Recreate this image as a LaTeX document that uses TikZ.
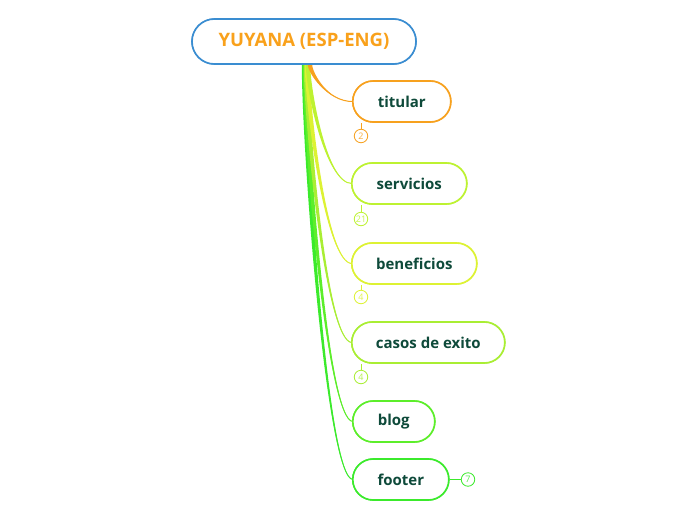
\documentclass[tikz,border=0pt]{standalone}
\usepackage{fontspec}
\setmainfont{Open Sans}
\usetikzlibrary{calc}
\definecolor{rootblue}{HTML}{3A8DD1}
\definecolor{rootorange}{HTML}{F9A11B}
\definecolor{txtdark}{HTML}{0E4A3A}
\definecolor{cTit}{HTML}{F7A11E}
\definecolor{cSer}{HTML}{BDF231}
\definecolor{cBen}{HTML}{DDF233}
\definecolor{cCas}{HTML}{A9EE33}
\definecolor{cBlo}{HTML}{5CEE2A}
\definecolor{cFoo}{HTML}{3BEA2C}
\tikzset{
  rootbox/.style={draw=rootblue, line width=1.6pt, rounded corners=22.5pt, fill=white,
    minimum height=45pt, minimum width=224pt, inner sep=0pt,
    font=\fontsize{18.5}{20}\selectfont\bfseries, text=rootorange},
  childbox/.style={draw=#1, line width=1.6pt, rounded corners=20.5pt, fill=white,
    minimum height=41pt, inner sep=0pt, anchor=west,
    font=\fontsize{15}{17}\selectfont\bfseries, text=txtdark},
  badge/.style={draw=#1, line width=0.8pt, circle, minimum size=13.5pt, inner sep=0pt,
    fill=white, font=\fontsize{9}{10}\selectfont, text=#1!85!white},
  blink/.style={draw=#1, line width=1pt},
}
\newcommand\myconn[3]{%
  \fill[#1] ([xshift=#2-2.2pt]root.south)
    .. controls ($([xshift=#2-2.2pt]root.south)!0.2!([xshift=#2-2.2pt]root.south|-#3.west)$)
       and ($(#3.west)+(-26,0)$) .. ($(#3.west)+(1,0)$)
    .. controls ($(#3.west)+(-24,0.8)$)
       and ($([xshift=#2+2.2pt]root.south)!0.2!([xshift=#2+2.2pt]root.south|-#3.west)$)
    .. ([xshift=#2+2.2pt]root.south) -- cycle;
  \draw[#1, line width=1pt] ([xshift=#2]root.south)
    .. controls ($([xshift=#2]root.south)!0.2!([xshift=#2]root.south|-#3.west)$)
       and ($(#3.west)+(-25,0.4)$) .. ($(#3.west)+(1,0)$);}
\begin{document}
\begin{tikzpicture}[x=1pt,y=-1pt]
\useasboundingbox (0,0) rectangle (697,520);
\fill[white] (0,0) rectangle (697,520);
\node[rootbox] (root) at (304,41.5) {YUYANA (ESP-ENG)};
\node[childbox=cTit, minimum width=98pt] (tit) at (352,101.5) {titular};
\node[childbox=cSer, minimum width=115pt] (ser) at (351,183.5) {servicios};
\node[childbox=cBen, minimum width=125pt] (ben) at (351,263.5) {beneficios};
\node[childbox=cCas, minimum width=153pt] (cas) at (351,342.5) {casos de exito};
\node[childbox=cBlo, minimum width=82pt] (blo) at (352,421.5) {blog};
\node[childbox=cFoo, minimum width=96pt] (foo) at (352,479.5) {footer};
% connectors (drawn then nodes redrawn on top)
\myconn{cFoo}{0pt}{foo}
\myconn{cBlo}{1pt}{blo}
\myconn{cCas}{2pt}{cas}
\myconn{cBen}{3pt}{ben}
\myconn{cSer}{4pt}{ser}
\myconn{cTit}{6pt}{tit}
% redraw nodes on top
\node[rootbox] at (root) {YUYANA (ESP-ENG)};
\node[childbox=cTit, minimum width=98pt, anchor=center] at (tit) {titular};
\node[childbox=cSer, minimum width=115pt, anchor=center] at (ser) {servicios};
\node[childbox=cBen, minimum width=125pt, anchor=center] at (ben) {beneficios};
\node[childbox=cCas, minimum width=153pt, anchor=center] at (cas) {casos de exito};
\node[childbox=cBlo, minimum width=82pt, anchor=center] at (blo) {blog};
\node[childbox=cFoo, minimum width=96pt, anchor=center] at (foo) {footer};
% badges
\node[badge=cTit] (bTit) at (361,136) {2};
\node[badge=cSer] (bSer) at (361,219) {21};
\node[badge=cBen] (bBen) at (361,297) {4};
\node[badge=cCas] (bCas) at (361,377) {4};
\node[badge=cFoo] (bFoo) at (468,479.5) {7};
\draw[blink=cTit] (bTit.north) -- (bTit.north|-tit.south);
\draw[blink=cSer] (bSer.north) -- (bSer.north|-ser.south);
\draw[blink=cBen] (bBen.north) -- (bBen.north|-ben.south);
\draw[blink=cCas] (bCas.north) -- (bCas.north|-cas.south);
\draw[blink=cFoo] (bFoo.west) -- (foo.east);
\end{tikzpicture}
\end{document}
